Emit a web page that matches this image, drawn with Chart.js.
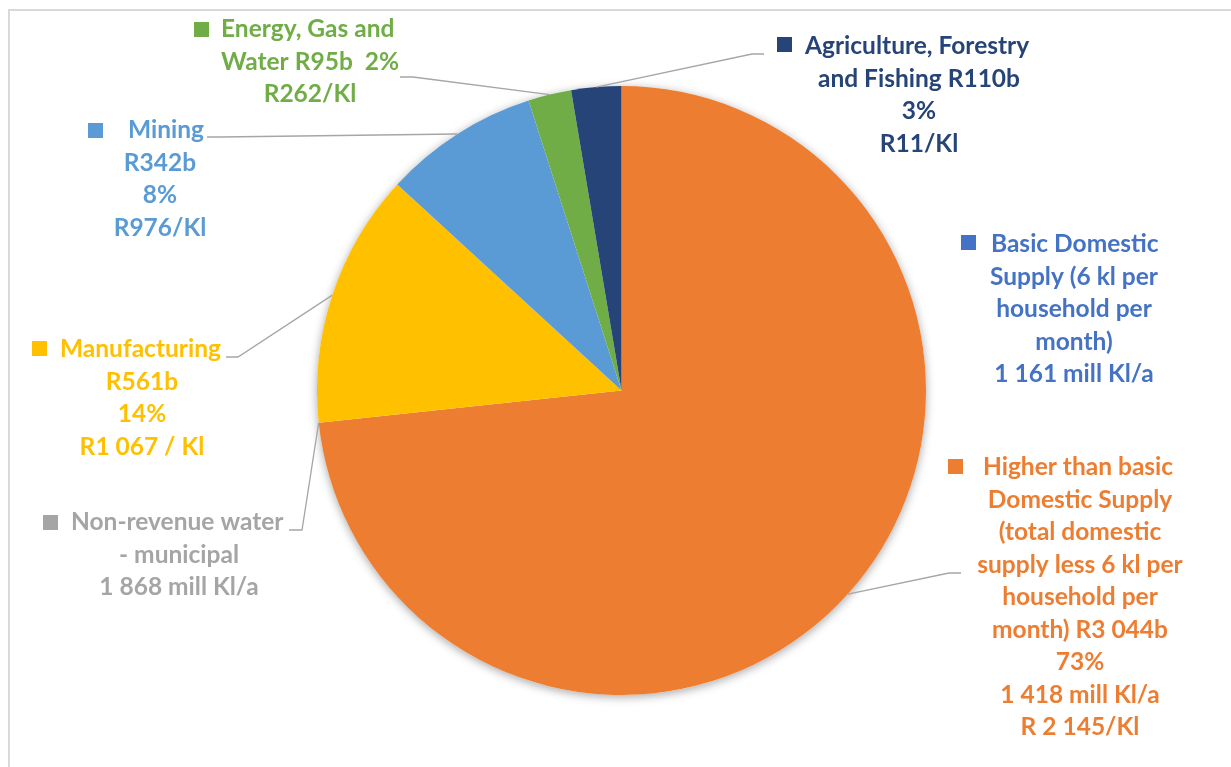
<!DOCTYPE html>
<html lang="en">
<head>
  <meta charset="UTF-8">
  <title>Water use by sector</title>
  <script src="https://cdn.jsdelivr.net/npm/chart.js"></script>
  <style>
    html, body {
      margin: 0;
      padding: 0;
      background: #fff;
      overflow: hidden;
    }

    .frame {
      position: absolute;
      left: 8px;
      top: 9px;
      width: 1400px;
      height: 900px;
      border: 2px solid #d9d9d9;
      box-sizing: border-box;
    }

    #pieChart {
      position: absolute;
      left: 0;
      top: 0;
    }
  </style>
</head>
<body>

  <div class="frame"></div>
  <canvas id="pieChart" width="1231" height="767"></canvas>

  <script>
    // Sectors in drawing order, clockwise from 12 o'clock
    const sectors = [
      'Basic Domestic Supply',
      'Higher than basic Domestic Supply',
      'Non-revenue water - municipal',
      'Manufacturing',
      'Mining',
      'Energy, Gas and Water',
      'Agriculture, Forestry and Fishing'
    ];
    // Economic value per sector, R billion
    const valueRandBn = [0, 3044, 0, 561, 342, 95, 110];
    const sharePct = [null, 73, null, 14, 8, 2, 3];
    const volumeMillKl = [1161, 1418, 1868, null, null, null, null];
    const randPerKl = [null, 2145, null, 1067, 976, 262, 11];
    const sliceColors = ['#4472C4', '#ED7D31', '#A5A5A5', '#FFC000', '#5B9BD5', '#70AD47', '#264478'];

    const fmt = n => String(n).replace(/\B(?=(\d{3})+(?!\d))/g, ' ');

    const labelLines = [
      ['Basic Domestic', 'Supply (6 kl per', 'household per', 'month)', `${fmt(volumeMillKl[0])} mill Kl/a`],
      ['Higher than basic', 'Domestic Supply', '(total domestic', 'supply less 6 kl per', 'household per',
        `month) R${fmt(valueRandBn[1])}b`, `${sharePct[1]}%`, `${fmt(volumeMillKl[1])} mill Kl/a`, `R ${fmt(randPerKl[1])}/Kl`],
      ['Non-revenue water', '- municipal', `${fmt(volumeMillKl[2])} mill Kl/a`],
      ['Manufacturing', `R${valueRandBn[3]}b`, `${sharePct[3]}%`, `R${fmt(randPerKl[3])} / Kl`],
      ['Mining', `R${valueRandBn[4]}b`, `${sharePct[4]}%`, `R${randPerKl[4]}/Kl`],
      ['Energy, Gas and', `Water R${valueRandBn[5]}b  ${sharePct[5]}%`, `R${randPerKl[5]}/Kl`],
      ['Agriculture, Forestry', `and Fishing R${valueRandBn[6]}b`, `${sharePct[6]}%`, `R${randPerKl[6]}/Kl`]
    ];

    // where each callout sits: first line starts at firstX, the rest are centred on cx
    const callouts = [
      { firstX: 991, cx: 1074, base: 252, key: [961, 235] },
      { firstX: 983, cx: 1080, base: 475, key: [948, 459], anchor: [961, 573], elbow: [949, 573] },
      { firstX: 71,  cx: 179,  base: 530, key: [43, 515],  anchor: [289, 530], elbow: [302, 530] },
      { firstX: 60,  cx: 142,  base: 357, key: [32, 341],  anchor: [226, 357], elbow: [238, 357] },
      { firstX: 128, cx: 160,  base: 138, key: [88, 123],  anchor: [207, 137], elbow: [220, 137] },
      { firstX: 221, cx: 310,  base: 37,  key: [194, 22],  anchor: [400, 77],  elbow: [413, 77] },
      { firstX: 805, cx: 919,  base: 54,  key: [777, 37],  anchor: [764, 54],  elbow: [752, 54] }
    ];
    const LINE_H = 32.5;
    const FONT = 'bold 24.5px Lato, "Open Sans", sans-serif';

    const calloutPlugin = {
      id: 'callouts',
      beforeDatasetsDraw(chart) {
        // soft drop shadow behind the whole pie
        const ctx = chart.ctx;
        const arc = chart.getDatasetMeta(0).data[1];
        const { x, y, outerRadius } = arc.getProps(['x', 'y', 'outerRadius'], true);
        ctx.save();
        ctx.shadowColor = 'rgba(0, 0, 0, 0.35)';
        ctx.shadowBlur = 10;
        ctx.shadowOffsetY = 2;
        ctx.fillStyle = '#fff';
        ctx.beginPath();
        ctx.arc(x, y, outerRadius, 0, Math.PI * 2);
        ctx.fill();
        ctx.restore();
      },
      afterDatasetsDraw(chart) {
        const ctx = chart.ctx;
        const meta = chart.getDatasetMeta(0);
        ctx.save();
        meta.data.forEach((arc, i) => {
          const c = callouts[i];
          if (c.anchor) {
            const { x, y, startAngle, endAngle, outerRadius } =
              arc.getProps(['x', 'y', 'startAngle', 'endAngle', 'outerRadius'], true);
            const mid = (startAngle + endAngle) / 2;
            ctx.strokeStyle = '#a6a6a6';
            ctx.lineWidth = 1.3;
            ctx.beginPath();
            ctx.moveTo(c.anchor[0], c.anchor[1]);
            ctx.lineTo(c.elbow[0], c.elbow[1]);
            ctx.lineTo(x + Math.cos(mid) * outerRadius, y + Math.sin(mid) * outerRadius);
            ctx.stroke();
          }
          ctx.fillStyle = sliceColors[i];
          ctx.fillRect(c.key[0], c.key[1], 15, 15);
          ctx.font = FONT;
          ctx.textBaseline = 'alphabetic';
          labelLines[i].forEach((t, k) => {
            if (k === 0) {
              ctx.textAlign = 'left';
              ctx.fillText(t, c.firstX, c.base);
            } else {
              ctx.textAlign = 'center';
              ctx.fillText(t, c.cx, c.base + k * LINE_H);
            }
          });
        });
        ctx.restore();
      }
    };

    new Chart(document.getElementById('pieChart'), {
      type: 'pie',
      data: {
        labels: sectors,
        datasets: [{
          data: valueRandBn,
          backgroundColor: sliceColors,
          borderWidth: 0,
          hoverBorderWidth: 0,
          hoverOffset: 0,
          offset: 0
        }]
      },
      options: {
        responsive: false,
        animation: false,
        events: [],
        layout: { padding: { left: 300, right: 288, top: 86, bottom: 72 } },
        plugins: {
          legend: { display: false },
          tooltip: { enabled: false }
        }
      },
      plugins: [calloutPlugin]
    });
  </script>
</body>
</html>
